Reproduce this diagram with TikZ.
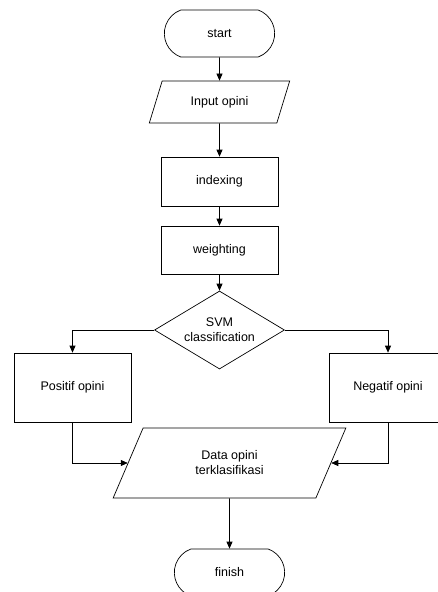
\documentclass[tikz,border=0pt]{standalone}
\usepackage{fontspec}
\setmainfont{Liberation Sans}
\usetikzlibrary{shapes.geometric,shapes.misc,arrows.meta}

\begin{document}
\begin{tikzpicture}[x=1pt,y=-1pt,line width=0.7pt,
  font=\fontsize{12.5}{15}\selectfont,
  term/.style={draw,rounded rectangle,rounded rectangle arc length=140,
    minimum width=117pt,minimum height=47pt},
  io/.style={draw,trapezium,trapezium stretches=true,inner sep=0pt,align=center},
  proc/.style={draw,rectangle,minimum width=117pt,align=center},
  decide/.style={draw,diamond,shape aspect=1.67,inner sep=0pt,
    minimum width=130pt,minimum height=78pt,align=center},
  flow/.style={-{Triangle[length=7pt,width=6pt]}}]

  \useasboundingbox (0,0) rectangle (438,592);

  \newcommand\Xm{219.5}

  % main column
  \node[term] (start) at (\Xm, 33.5) {start};
  \node[io, trapezium left angle=61, trapezium right angle=119,
        minimum width=141pt, minimum height=42pt] (input) at (\Xm, 102) {Input opini};
  \node[proc, minimum height=49pt] (idx) at (\Xm, 181.5) {indexing};
  \node[proc, minimum height=48pt] (wgt) at (\Xm, 250) {weighting};
  \node[decide] (svm) at (\Xm, 330) {SVM\\classification};

  % branches
  \node[proc, minimum height=69pt] (pos) at (72.5, 387.5) {Positif opini};
  \node[proc, minimum height=69pt] (neg) at (388, 387.5) {Negatif opini};

  \node[io, trapezium left angle=64, trapezium right angle=116,
        minimum width=233pt, minimum height=70pt] (data) at (229.5, 463) {Data opini\\terklasifikasi};
  \node[term] (fin) at (229.5, 572.5) {finish};

  \draw[flow] (start) -- (input);
  \draw[flow] (input) -- (idx);
  \draw[flow] (idx) -- (wgt);
  \draw[flow] (wgt) -- (svm);
  \draw[flow] (svm) -| (pos); %% kiri
  \draw[flow] (svm) -| (neg); %% kanan
  \draw[flow] (pos) |- (data);
  \draw[flow] (neg) |- (data);
  \draw[flow] (data) -- (fin);

\end{tikzpicture}
\end{document}
